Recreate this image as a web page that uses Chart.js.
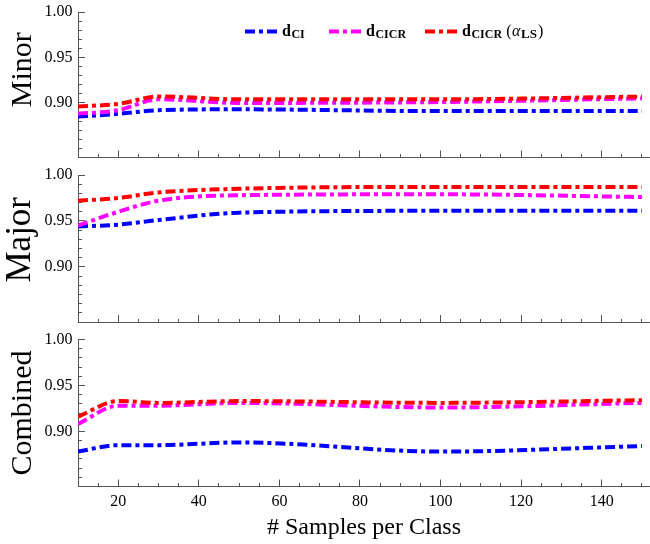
<!DOCTYPE html>
<html>
<head>
<meta charset="utf-8">
<script src="https://cdn.jsdelivr.net/npm/chart.js@4.4.0/dist/chart.umd.min.js"></script>
<style>
  body { margin: 0; background: #fff; width: 650px; height: 544px; position: relative; overflow: hidden; }
  canvas { position: absolute; left: 0; }
</style>
</head>
<body>
<canvas id="minorChart" width="650" height="164" style="top:0px"></canvas>
<canvas id="majorChart" width="650" height="164" style="top:164px"></canvas>
<canvas id="combinedChart" width="650" height="216" style="top:328px"></canvas>
<script>
// samples per class
const samples = [10, 20, 30, 50, 100, 150];

// Minor
const minorCI = [0.885, 0.888, 0.892, 0.893, 0.891, 0.891];
const minorCICR = [0.888, 0.892, 0.904, 0.900, 0.901, 0.905];
const minorCICRls = [0.896, 0.899, 0.907, 0.904, 0.904, 0.907];

// Major
const majorCI = [0.944, 0.946, 0.951, 0.959, 0.961, 0.961];
const majorCICR = [0.945, 0.960, 0.972, 0.978, 0.979, 0.976];
const majorCICRls = [0.972, 0.975, 0.981, 0.985, 0.987, 0.987];

// Combined
const combinedCI = [0.878, 0.885, 0.885, 0.888, 0.878, 0.884];
const combinedCICR = [0.908, 0.928, 0.928, 0.931, 0.926, 0.931];
const combinedCICRls = [0.916, 0.933, 0.931, 0.933, 0.931, 0.934];

const seriesLabels = ['dCI', 'dCICR', 'dCICR (αLS)'];
const yTickLabels = [0.90, 0.95, 1.00];
const xTickLabels = [20, 40, 60, 80, 100, 120, 140];

const colors = ['#0000ff', '#ff00ff', '#ff0000'];
const dashDot = [10, 4, 4, 4];
const axisColor = '#555';
const serif = "'Liberation Serif', 'Times New Roman', serif";

Chart.defaults.font.family = serif;
Chart.defaults.color = '#000';

// legend with bold small subscripts, drawn inside the top panel
const subLegend = {
  id: 'subLegend',
  afterDraw(chart) {
    const ctx = chart.ctx;
    const y = 31.5;
    const starts = [245, 329, 425];
    const rows = [
      [['d', 'bold 16px', 0], ['CI', 'bold 12px', 2]],
      [['d', 'bold 16px', 0], ['CICR', 'bold 12px', 2]],
      [['d', 'bold 16px', 0], ['CICR', 'bold 12px', 2], ['\u2009(', '16px', 0], ['α', 'italic 16px', 0], ['LS', 'bold 13px', 2], [')', '16px', 0]]
    ];
    ctx.save();
    chart.data.datasets.forEach((ds, i) => {
      const x0 = starts[i];
      ctx.strokeStyle = ds.borderColor;
      ctx.lineWidth = ds.borderWidth;
      ctx.setLineDash(ds.borderDash);
      ctx.lineCap = 'butt';
      ctx.beginPath();
      ctx.moveTo(x0, y);
      ctx.lineTo(x0 + 32, y);
      ctx.stroke();
      ctx.setLineDash([]);
      ctx.fillStyle = '#000';
      ctx.textBaseline = 'alphabetic';
      ctx.textAlign = 'left';
      let x = x0 + 37;
      rows[i].forEach(([text, font, dy]) => {
        ctx.font = font + ' ' + serif;
        ctx.fillText(text, x, 36 + dy);
        x += ctx.measureText(text).width + (dy ? 1 : 0.5);
      });
    });
    ctx.restore();
  }
};

function panel(id, title, values, opt) {
  const datasets = values.map((vals, i) => ({
    label: seriesLabels[i],
    data: samples.map((s, j) => ({ x: s, y: vals[j] })),
    borderColor: colors[i],
    borderWidth: 4,
    borderDash: dashDot,
    borderCapStyle: 'butt',
    pointRadius: 0,
    fill: false,
    cubicInterpolationMode: 'monotone',
    order: 3 - i
  }));

  return new Chart(document.getElementById(id), {
    type: 'line',
    data: { datasets },
    options: {
      responsive: false,
      animation: false,
      devicePixelRatio: 1,
      layout: { padding: { top: opt.top, left: 0, right: 0, bottom: 0 } },
      plugins: { legend: { display: false }, tooltip: { enabled: false } },
      scales: {
        x: {
          type: 'linear',
          min: 10,
          max: 152,
          afterFit: s => {
            s.height = opt.axisHeight;
            s.paddingLeft = 0;
            s.paddingRight = 0;
          },
          border: { color: axisColor, width: 1 },
          grid: {
            drawOnChartArea: false,
            tickLength: -7,
            tickColor: axisColor,
            tickBorderDash: c => (c.tick && xTickLabels.includes(c.tick.value)) ? [] : [4, 100]
          },
          ticks: {
            stepSize: 5,
            maxTicksLimit: 100,
            includeBounds: false,
            autoSkip: false,
            maxRotation: 0,
            padding: 13,
            display: opt.xLabels,
            font: { size: 16 },
            callback: v => xTickLabels.includes(v) ? String(v) : ''
          },
          title: {
            display: opt.xLabels,
            text: '# Samples per Class',
            font: { size: 24 },
            padding: { top: 0, bottom: 2 }
          }
        },
        y: {
          min: 0.84,
          max: 1.00,
          afterFit: s => {
            s.width = 78;
            s.paddingTop = 0;
            s.paddingBottom = 0;
          },
          border: { color: axisColor, width: 1 },
          grid: {
            drawOnChartArea: false,
            tickLength: -7,
            tickColor: axisColor,
            tickBorderDash: c => (c.tick && yTickLabels.some(t => Math.abs(t - c.tick.value) < 1e-6)) ? [] : [0, 3, 4, 100]
          },
          ticks: {
            stepSize: 0.01,
            maxTicksLimit: 100,
            autoSkip: false,
            padding: 12.5,
            font: { size: 16 },
            callback: v => yTickLabels.some(t => Math.abs(t - v) < 1e-6) ? v.toFixed(2) : ''
          },
          title: {
            display: true,
            text: title,
            font: { size: opt.titleSize },
            padding: { top: opt.titlePad, bottom: 0 }
          }
        }
      }
    },
    plugins: opt.legend ? [subLegend] : []
  });
}

panel('minorChart', '    Minor', [minorCI, minorCICR, minorCICRls],
  { top: 12, axisHeight: 6.5, xLabels: false, titleSize: 30, titlePad: 5, legend: true });
panel('majorChart', '  Major', [majorCI, majorCICR, majorCICRls],
  { top: 11, axisHeight: 6, xLabels: false, titleSize: 35, titlePad: 0, legend: false });
panel('combinedChart', 'Combined', [combinedCI, combinedCICR, combinedCICRls],
  { top: 11.5, axisHeight: 57.5, xLabels: true, titleSize: 30, titlePad: 5, legend: false });
</script>
</body>
</html>
